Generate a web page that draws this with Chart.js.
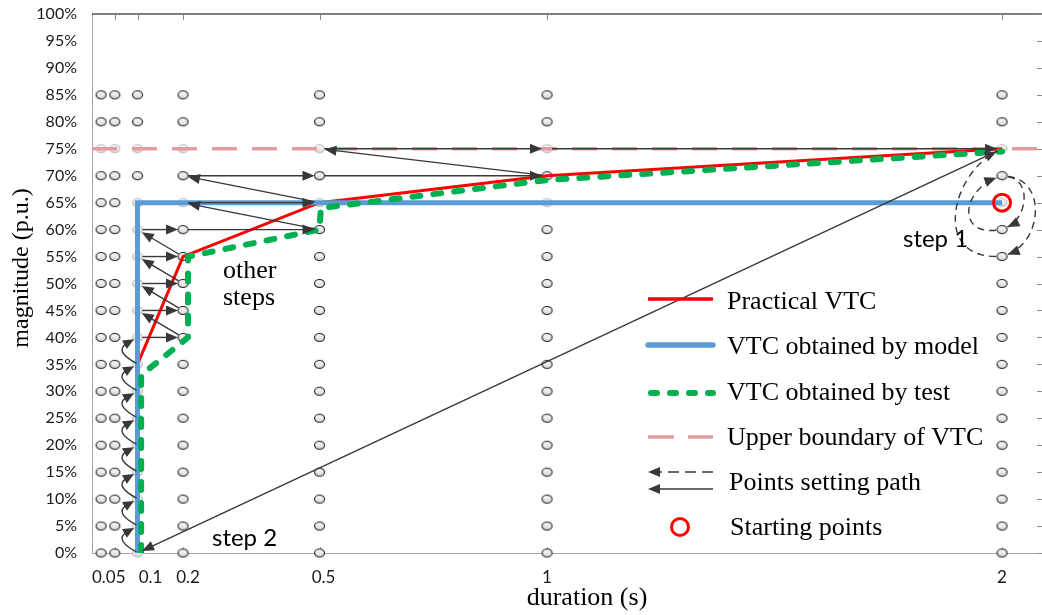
<!DOCTYPE html>
<html lang="en">
<head>
<meta charset="utf-8">
<title>VTC points setting path</title>
<script src="https://cdn.jsdelivr.net/npm/chart.js@4.4.1/dist/chart.umd.min.js"></script>
<style>
  html, body { margin: 0; padding: 0; background: #fff; overflow: hidden; }
  #frame { width: 1042px; height: 615px; overflow: hidden; }
  canvas { display: block; }
</style>
</head>
<body>
<div id="frame"><canvas id="vtc" width="1050" height="615"></canvas></div>
<script>
// ---- axis ticks ----
const durationTicks = [0.05, 0.1, 0.2, 0.5, 1, 2];
const durationTickLabels = ['0.05', '0.1', '0.2', '0.5', '1', '2'];
const magnitudeTicks = [0, 5, 10, 15, 20, 25, 30, 35, 40, 45, 50, 55, 60, 65, 70, 75, 80, 85, 90, 95, 100];

// ---- candidate test points (duration s, magnitude %) ----
const candidateDurations = [0.02, 0.05, 0.1, 0.2, 0.5, 1, 2];
const candidateMagnitudes = [0, 5, 10, 15, 20, 25, 30, 35, 40, 45, 50, 55, 60, 65, 70, 75, 80, 85];

// ---- curves ----
const practicalDuration = [0.1, 0.1, 0.2, 0.5, 1, 2];
const practicalMagnitude = [0, 35, 55, 65, 70, 75];

const modelDuration = [0.1, 0.1, 2];
const modelMagnitude = [0, 65, 65];

const testDuration = [0.108, 0.108, 0.211, 0.211, 0.5, 0.503, 1, 2];
const testMagnitude = [0, 33, 40, 55, 60, 64, 69.2, 74.5];

const boundaryDuration = [0, 2.09];
const boundaryMagnitude = [75, 75];

const startDuration = [2];
const startMagnitude = [65];

// ---- points setting path: [from duration, from magnitude, to duration, to magnitude] ----
const step1Path = [[2, 60, 2, 70], [2, 70, 2, 60], [2, 70, 2, 55], [2, 55, 2, 75]];
const step2Path = [[2, 75, 0.1, 0]];
const climbPath = [
  [0.1, 0, 0.1, 5], [0.1, 5, 0.1, 10], [0.1, 10, 0.1, 15], [0.1, 15, 0.1, 20],
  [0.1, 20, 0.1, 25], [0.1, 25, 0.1, 30], [0.1, 30, 0.1, 35], [0.1, 35, 0.1, 40]
];
const otherStepsPath = [
  [0.1, 40, 0.2, 40], [0.2, 40, 0.1, 45], [0.1, 45, 0.2, 45], [0.2, 45, 0.1, 50],
  [0.1, 50, 0.2, 50], [0.2, 50, 0.1, 55], [0.1, 55, 0.2, 55], [0.2, 55, 0.1, 60],
  [0.1, 60, 0.2, 60], [0.2, 60, 0.5, 60], [0.5, 60, 0.2, 65], [0.2, 65, 0.5, 65],
  [0.5, 65, 0.2, 70], [0.2, 70, 0.5, 70], [0.5, 70, 1, 70], [1, 70, 0.5, 75],
  [0.5, 75, 1, 75], [1, 75, 2, 75]
];

// ---------------------------------------------------------------------
const pairs = (xs, ys) => xs.map((x, i) => ({ x: x, y: ys[i] }));

const candidatePoints = [];
candidateDurations.forEach(d => candidateMagnitudes.forEach(m => candidatePoints.push({ x: d, y: m })));

// candidate points that sit under the model curve or the upper boundary are drawn faint
const isFaint = p =>
  p.y === boundaryMagnitude[0] ||
  (p.x === modelDuration[0] && p.y <= modelMagnitude[1]) ||
  (p.y === modelMagnitude[1] && p.x >= modelDuration[0]);

function ellipseMark(stroke) {
  const c = document.createElement('canvas');
  c.width = 13; c.height = 11;
  const g = c.getContext('2d');
  const grad = g.createLinearGradient(0, 1, 0, 10);
  grad.addColorStop(0, '#ffffff');
  grad.addColorStop(1, '#d4d4d4');
  g.beginPath();
  g.ellipse(6.5, 5.5, 5, 4, 0, 0, Math.PI * 2);
  g.fillStyle = grad;
  g.fill();
  g.lineWidth = 1.1;
  g.strokeStyle = stroke;
  g.stroke();
  return c;
}
const markDark = ellipseMark('#1e1e1e');
const markFaint = ellipseMark('#bdbdbd');

const INK = '#383838';
const SERIF = '"Liberation Serif", "Times New Roman", serif';
const SANS = 'Lato, "Open Sans", sans-serif';

function arrowHead(ctx, x, y, ang, len, half) {
  ctx.save();
  ctx.translate(x, y);
  ctx.rotate(ang);
  ctx.beginPath();
  ctx.moveTo(0, 0);
  ctx.lineTo(-len, -half);
  ctx.lineTo(-len, half);
  ctx.closePath();
  ctx.fill();
  ctx.restore();
}

function straightArrow(ctx, a, b, gapA, gapB) {
  const ang = Math.atan2(b[1] - a[1], b[0] - a[0]);
  const c = Math.cos(ang), s = Math.sin(ang);
  const sx = a[0] + c * gapA, sy = a[1] + s * gapA;
  const ex = b[0] - c * gapB, ey = b[1] - s * gapB;
  ctx.beginPath();
  ctx.moveTo(sx, sy);
  ctx.lineTo(ex - c * 9, ey - s * 9);
  ctx.stroke();
  arrowHead(ctx, ex, ey, ang, 12, 5);
}

function cubicArrow(ctx, a, b, c1, c2, head) {
  const p1 = [a[0] + c1[0], a[1] + c1[1]];
  const p2 = [b[0] + c2[0], b[1] + c2[1]];
  const ang = Math.atan2(b[1] - p2[1], b[0] - p2[0]);
  const gap = 6;
  const ex = b[0] - Math.cos(ang) * gap, ey = b[1] - Math.sin(ang) * gap;
  const sAng = Math.atan2(p1[1] - a[1], p1[0] - a[0]);
  const sx = a[0] + Math.cos(sAng) * gap, sy = a[1] + Math.sin(sAng) * gap;
  ctx.beginPath();
  ctx.moveTo(sx, sy);
  ctx.bezierCurveTo(p1[0], p1[1], p2[0], p2[1], ex, ey);
  ctx.stroke();
  if (head) {
    ctx.save();
    ctx.setLineDash([]);
    arrowHead(ctx, ex, ey, ang, 12, 5);
    ctx.restore();
  }
}

const pix = (chart, d, m) => [chart.scales.x.getPixelForValue(d), chart.scales.y.getPixelForValue(m)];

// no extra room around the scales: the plot box is fixed by the layout padding
function tightScale(scale) {
  scale.paddingTop = 0;
  scale.paddingBottom = 0;
  scale.paddingLeft = 0;
  scale.paddingRight = 0;
}

// axis frame, tick marks and duration labels
const axesFrame = {
  id: 'axesFrame',
  beforeDatasetsDraw(chart) {
    const { ctx, chartArea: a } = chart;
    const xs = chart.scales.x, ys = chart.scales.y;
    ctx.save();
    // left and bottom axis lines
    ctx.strokeStyle = '#a6a6a6';
    ctx.lineWidth = 1;
    ctx.beginPath();
    ctx.moveTo(a.left + 0.5, a.top);
    ctx.lineTo(a.left + 0.5, a.bottom + 0.5);
    ctx.lineTo(a.right, a.bottom + 0.5);
    ctx.stroke();
    ctx.beginPath();
    durationTicks.forEach(d => {
      const x = Math.round(xs.getPixelForValue(d)) + 0.5;
      ctx.moveTo(x, a.bottom);
      ctx.lineTo(x, a.bottom - 6);
    });
    ctx.stroke();
    // top axis
    ctx.strokeStyle = '#555555';
    ctx.lineWidth = 1.6;
    ctx.beginPath();
    ctx.moveTo(a.left, a.top);
    ctx.lineTo(a.right, a.top);
    ctx.stroke();
    ctx.lineWidth = 1;
    ctx.strokeStyle = '#8a8a8a';
    ctx.beginPath();
    durationTicks.forEach(d => {
      const x = Math.round(xs.getPixelForValue(d)) + 0.5;
      ctx.moveTo(x, a.top);
      ctx.lineTo(x, a.top + 6);
    });
    // right tick marks
    magnitudeTicks.forEach(m => {
      const y = Math.round(ys.getPixelForValue(m)) + 0.5;
      ctx.moveTo(a.right - 6, y);
      ctx.lineTo(a.right, y);
    });
    ctx.stroke();
    // duration labels
    const nudge = [-6, 13, 5, 4, 0, 0];
    ctx.fillStyle = '#1a1a1a';
    ctx.font = '17px ' + SANS;
    ctx.textAlign = 'center';
    ctx.textBaseline = 'alphabetic';
    durationTicks.forEach((d, i) => {
      ctx.fillText(durationTickLabels[i], xs.getPixelForValue(d) + nudge[i], a.bottom + 30);
    });
    // axis titles
    ctx.fillStyle = '#000';
    ctx.font = '26px ' + SERIF;
    ctx.fillText('duration (s)', 587, 605);
    ctx.save();
    ctx.translate(28, 268);
    ctx.rotate(-Math.PI / 2);
    ctx.font = '24px ' + SERIF;
    ctx.fillText('magnitude (p.u.)', 0, 0);
    ctx.restore();
    ctx.restore();
  }
};

// points setting path, step captions and legend
const annotations = {
  id: 'annotations',
  afterDatasetsDraw(chart) {
    const { ctx } = chart;
    ctx.save();
    ctx.strokeStyle = INK;
    ctx.fillStyle = INK;
    ctx.lineWidth = 1.4;

    // climbing along the 0.1 s column
    climbPath.forEach(([d1, m1, d2, m2]) => {
      const a = pix(chart, d1, m1), b = pix(chart, d2, m2);
      const cx = a[0] - 24, cy = (a[1] + b[1]) / 2;
      const ang = Math.atan2(b[1] - cy, b[0] - cx);
      const ex = b[0] - Math.cos(ang) * 4, ey = b[1] - Math.sin(ang) * 4;
      ctx.beginPath();
      ctx.moveTo(a[0] - 1, a[1] - 1);
      ctx.quadraticCurveTo(cx, cy, ex - Math.cos(ang) * 8, ey - Math.sin(ang) * 8);
      ctx.stroke();
      arrowHead(ctx, ex, ey, ang, 11, 5);
    });

    // other steps
    otherStepsPath.forEach(([d1, m1, d2, m2]) => {
      straightArrow(ctx, pix(chart, d1, m1), pix(chart, d2, m2), 5, 5);
    });

    // step 2 jump
    step2Path.forEach(([d1, m1, d2, m2]) => {
      straightArrow(ctx, pix(chart, d1, m1), pix(chart, d2, m2), 5, 5);
    });

    // step 1 search at 2 s (dashed loops)
    const loops = [
      { c1: [-45, 5], c2: [-40, 15], head: true },
      { c1: [30, 5], c2: [25, -12], head: true },
      { c1: [45, 5], c2: [40, -15], head: true },
      { c1: [-70, 0], c2: [-50, 25], head: true }
    ];
    ctx.setLineDash([7, 5]);
    step1Path.forEach(([d1, m1, d2, m2], i) => {
      cubicArrow(ctx, pix(chart, d1, m1), pix(chart, d2, m2), loops[i].c1, loops[i].c2, loops[i].head);
    });
    ctx.setLineDash([]);

    // captions
    ctx.fillStyle = '#000';
    ctx.textAlign = 'left';
    ctx.textBaseline = 'alphabetic';
    ctx.font = '26px ' + SERIF;
    ctx.fillText('other', 223, 278);
    ctx.fillText('steps', 223, 305);
    ctx.font = '24px ' + SANS;
    ctx.fillText('step 1', 903, 247);
    ctx.fillText('step 2', 212, 546);

    // legend
    const x1 = 648, x2 = 713, tx = 727;
    ctx.font = '26px ' + SERIF;
    ctx.lineCap = 'butt';

    ctx.strokeStyle = '#ff0000'; ctx.lineWidth = 3.5;
    ctx.beginPath(); ctx.moveTo(x1, 299); ctx.lineTo(x2, 299); ctx.stroke();
    ctx.fillText('Practical VTC', tx, 309);

    ctx.strokeStyle = '#5b9bd5'; ctx.lineWidth = 5.5; ctx.lineCap = 'round';
    ctx.beginPath(); ctx.moveTo(x1, 345); ctx.lineTo(x2, 345); ctx.stroke();
    ctx.fillText('VTC obtained by model', tx, 354);

    ctx.strokeStyle = '#00b050'; ctx.lineWidth = 6; ctx.setLineDash([6, 13]);
    ctx.beginPath(); ctx.moveTo(x1 + 3, 393); ctx.lineTo(x2, 393); ctx.stroke();
    ctx.fillText('VTC obtained by test', tx, 400);

    ctx.lineCap = 'butt';
    ctx.strokeStyle = '#e59b9b'; ctx.lineWidth = 3.5; ctx.setLineDash([26, 14]);
    ctx.beginPath(); ctx.moveTo(x1, 437); ctx.lineTo(x2, 437); ctx.stroke();
    ctx.fillText('Upper boundary of VTC', tx, 445);

    ctx.strokeStyle = INK; ctx.fillStyle = INK; ctx.lineWidth = 1.4;
    ctx.setLineDash([11, 6]);
    ctx.beginPath(); ctx.moveTo(x2, 472); ctx.lineTo(x1 + 9, 472); ctx.stroke();
    ctx.setLineDash([]);
    arrowHead(ctx, x1, 472, Math.PI, 12, 5);
    ctx.beginPath(); ctx.moveTo(x2, 489); ctx.lineTo(x1 + 9, 489); ctx.stroke();
    arrowHead(ctx, x1, 489, Math.PI, 12, 5);
    ctx.fillStyle = '#000';
    ctx.fillText('Points setting path', tx + 2, 490);

    ctx.strokeStyle = '#ff0000'; ctx.lineWidth = 3;
    ctx.beginPath(); ctx.arc(680, 527, 8.5, 0, Math.PI * 2); ctx.stroke();
    ctx.fillText('Starting points', tx + 3, 535);

    ctx.restore();
  }
};

new Chart(document.getElementById('vtc'), {
  type: 'scatter',
  data: {
    datasets: [
      {
        label: 'Candidate points',
        data: candidatePoints,
        pointStyle: c => (c.raw && isFaint(c.raw) ? markFaint : markDark),
        pointRadius: 4,
        clip: false,
        order: 10
      },
      {
        label: 'Upper boundary of VTC',
        data: pairs(boundaryDuration, boundaryMagnitude),
        showLine: true,
        borderColor: '#e59b9b',
        borderWidth: 3.5,
        borderDash: [25, 15],
        pointRadius: 0,
        order: 9
      },
      {
        label: 'Practical VTC',
        data: pairs(practicalDuration, practicalMagnitude),
        showLine: true,
        borderColor: '#ff0000',
        borderWidth: 3,
        pointRadius: 0,
        order: 8
      },
      {
        label: 'VTC obtained by model',
        data: pairs(modelDuration, modelMagnitude),
        showLine: true,
        borderColor: '#5b9bd5',
        borderWidth: 5,
        pointRadius: 0,
        order: 7
      },
      {
        label: 'VTC obtained by test',
        data: pairs(testDuration, testMagnitude),
        showLine: true,
        borderColor: '#00b050',
        borderWidth: 6,
        borderDash: [8, 13],
        borderCapStyle: 'round',
        borderJoinStyle: 'round',
        pointRadius: 0,
        order: 6
      },
      {
        label: 'Starting points',
        data: pairs(startDuration, startMagnitude),
        pointStyle: 'circle',
        pointRadius: 8.5,
        pointBorderWidth: 3,
        pointBorderColor: '#ff0000',
        pointBackgroundColor: 'rgba(255,255,255,0)',
        clip: false,
        order: 1
      }
    ]
  },
  options: {
    responsive: false,
    animation: false,
    devicePixelRatio: 1,
    events: [],
    layout: { autoPadding: false, padding: { left: 0, right: 7, top: 14, bottom: 62 } },
    plugins: { legend: { display: false }, tooltip: { enabled: false } },
    scales: {
      x: { type: 'linear', min: 0, max: 2.09, display: false, afterFit: tightScale },
      y: {
        type: 'linear',
        min: 0,
        max: 100,
        afterFit(scale) { scale.width = 92; tightScale(scale); },
        afterBuildTicks(scale) { scale.ticks = magnitudeTicks.map(v => ({ value: v })); },
        ticks: {
          autoSkip: false,
          padding: 15,
          color: '#1a1a1a',
          font: { family: 'Lato', size: 16 },
          callback: v => v + '%'
        },
        grid: { display: false, drawTicks: false },
        border: { display: false }
      }
    }
  },
  plugins: [axesFrame, annotations]
});
</script>
</body>
</html>
